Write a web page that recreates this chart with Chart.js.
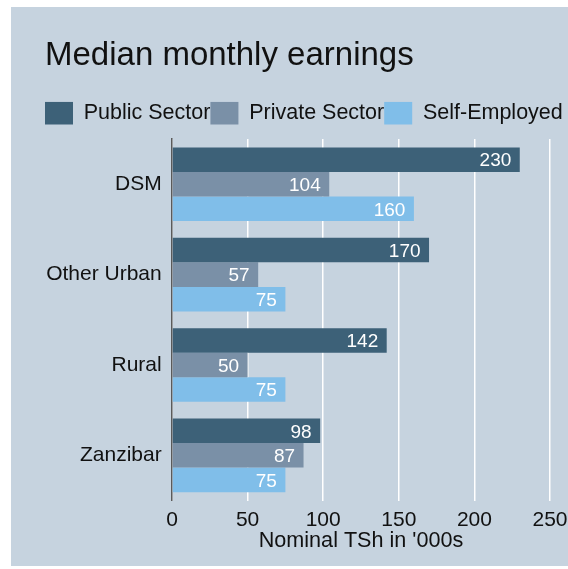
<!DOCTYPE html>
<html>
<head>
<meta charset="utf-8">
<script src="https://cdn.jsdelivr.net/npm/chart.js@4.4.1/dist/chart.umd.min.js"></script>
<style>
  html, body { margin: 0; padding: 0; background: #ffffff; }
  canvas { display: block; }
</style>
</head>
<body>
<canvas id="c" width="568" height="569"></canvas>
<script>
// ---- Data ----
const categories = ['DSM', 'Other Urban', 'Rural', 'Zanzibar'];
const seriesNames = ['Public Sector', 'Private Sector', 'Self-Employed'];
const publicSector = [230, 170, 142, 98];
const privateSector = [104, 57, 50, 87];
const selfEmployed = [160, 75, 75, 75];
const xTicks = [0, 50, 100, 150, 200, 250];
const titleText = 'Median monthly earnings';
const xAxisTitle = "Nominal TSh in '000s";

// ---- Style ----
const FONT = "'Liberation Sans', Arial, Helvetica, sans-serif";
const colors = ['#3d6178', '#7a90a7', '#80bee9'];
const panelBg = '#c6d3df';

const panelPlugin = {
  id: 'panel',
  beforeDraw(chart) {
    const ctx = chart.ctx;
    ctx.save();
    ctx.fillStyle = '#ffffff';
    ctx.fillRect(0, 0, chart.width, chart.height);
    ctx.fillStyle = panelBg;
    ctx.fillRect(11, 7, chart.width - 11, 559);
    ctx.restore();
  }
};

const valueLabels = {
  id: 'valueLabels',
  afterDatasetsDraw(chart) {
    const ctx = chart.ctx;
    ctx.save();
    ctx.font = '19px ' + FONT;
    ctx.fillStyle = '#ffffff';
    ctx.textAlign = 'right';
    ctx.textBaseline = 'middle';
    chart.data.datasets.forEach((ds, i) => {
      const meta = chart.getDatasetMeta(i);
      meta.data.forEach((bar, j) => {
        ctx.fillText(String(ds.data[j]), bar.x - 8.5, bar.y + 1.5);
      });
    });
    ctx.restore();
  }
};

const seriesData = [publicSector, privateSector, selfEmployed];

new Chart(document.getElementById('c'), {
  type: 'bar',
  data: {
    labels: categories,
    datasets: seriesNames.map((name, i) => ({
      label: name,
      data: seriesData[i],
      backgroundColor: colors[i],
      borderWidth: 0,
      barPercentage: 1,
      categoryPercentage: 0.815
    }))
  },
  options: {
    indexAxis: 'y',
    responsive: false,
    animation: false,
    devicePixelRatio: 1,
    layout: { padding: { top: 36, left: 45, right: 0, bottom: 16.9 } },
    plugins: {
      title: {
        display: true,
        text: titleText,
        align: 'start',
        color: '#111111',
        font: { family: FONT, size: 33, weight: 'normal', lineHeight: 1.2 },
        padding: { top: 0, bottom: 26.2 }
      },
      legend: {
        display: true,
        align: 'start',
        labels: {
          color: '#111111',
          font: { family: FONT, size: 21.5 },
          boxWidth: 28,
          boxHeight: 22.6,
          padding: 0
        }
      },
      tooltip: { enabled: false }
    },
    scales: {
      x: {
        type: 'linear',
        position: 'bottom',
        min: 0,
        max: 250,
        afterBuildTicks(scale) { scale.ticks = xTicks.map(v => ({ value: v })); },
        afterFit(scale) { scale.paddingRight = 18; },
        grid: { display: true, color: '#ffffff', lineWidth: 1.5, drawTicks: false, tickLength: 0 },
        border: { display: false },
        ticks: {
          color: '#111111',
          font: { family: FONT, size: 21, lineHeight: 1 },
          padding: 9.5,
          maxRotation: 0
        },
        title: {
          display: true,
          text: xAxisTitle,
          color: '#111111',
          font: { family: FONT, size: 21.6, lineHeight: 1 },
          padding: { top: -10, bottom: 0 }
        }
      },
      xTop: {
        type: 'linear',
        position: 'top',
        display: true,
        grid: { display: false, drawTicks: false },
        border: { display: false },
        ticks: { display: false },
        afterFit(scale) { scale.height = 4.7; scale.paddingLeft = 0; scale.paddingRight = 0; }
      },
      y: {
        type: 'category',
        position: 'left',
        afterFit(scale) { scale.width = 172 - 45; },
        grid: { display: false, drawTicks: false, tickLength: 0 },
        border: { display: true, color: '#5a5a5a', width: 1.5 },
        ticks: {
          color: '#111111',
          font: { family: FONT, size: 21 },
          padding: 10.3
        }
      }
    }
  },
  plugins: [panelPlugin, valueLabels]
});
</script>
</body>
</html>
